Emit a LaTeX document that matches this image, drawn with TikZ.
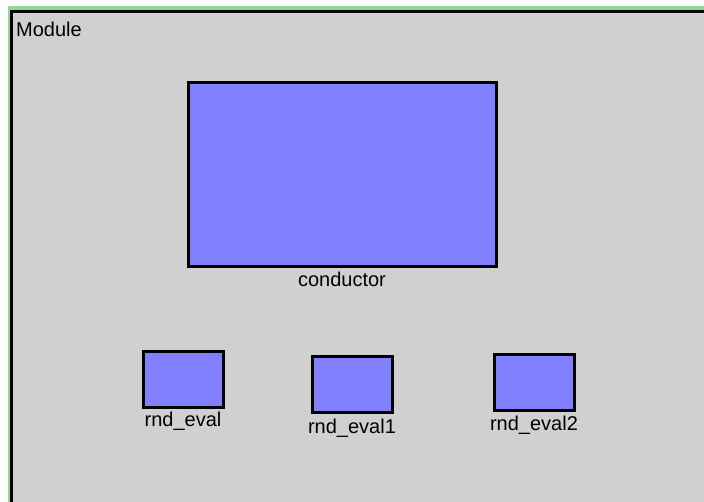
\documentclass[tikz,border=0pt]{standalone}
\usepackage{fontspec}
\setmainfont{Liberation Sans}
\usetikzlibrary{positioning}
\definecolor{framec}{HTML}{90D890}
\definecolor{panelc}{HTML}{D0D0D0}
\definecolor{blockc}{HTML}{8080FF}
\tikzset{
  blk/.style={draw=black,line width=3pt,fill=blockc,inner sep=0pt},
  lbl/.style={inner sep=0pt,font=\fontsize{20pt}{22pt}\selectfont,anchor=north}
}
\begin{document}
\begin{tikzpicture}[x=1pt,y=-1pt]
\clip (0,0) rectangle (704,501);
\fill[white] (0,0) rectangle (704,501);
\fill[framec] (8,6) rectangle (720,520);
\fill[black] (10,10) rectangle (720,520);
\fill[panelc] (13,13) rectangle (720,520);
\node[lbl,anchor=north west] (module) at (16,22) {Module};
\node[blk,minimum width=308pt,minimum height=184pt] (conductor) at (342,174) {};
\node[lbl,below=4pt of conductor] (conductorlbl) {conductor};
\node[blk,minimum width=80pt,minimum height=56pt] (eval0) at (183,379) {};
\node[lbl,below=3pt of eval0] (eval0lbl) {rnd\_eval};
\node[blk,minimum width=80pt,minimum height=56pt] (eval1) at (352,384) {};
\node[lbl,below=5pt of eval1] (eval1lbl) {rnd\_eval1};
\node[blk,minimum width=80pt,minimum height=56pt] (eval2) at (534,382) {};
\node[lbl,below=4pt of eval2] (eval2lbl) {rnd\_eval2};
\end{tikzpicture}
\end{document}
